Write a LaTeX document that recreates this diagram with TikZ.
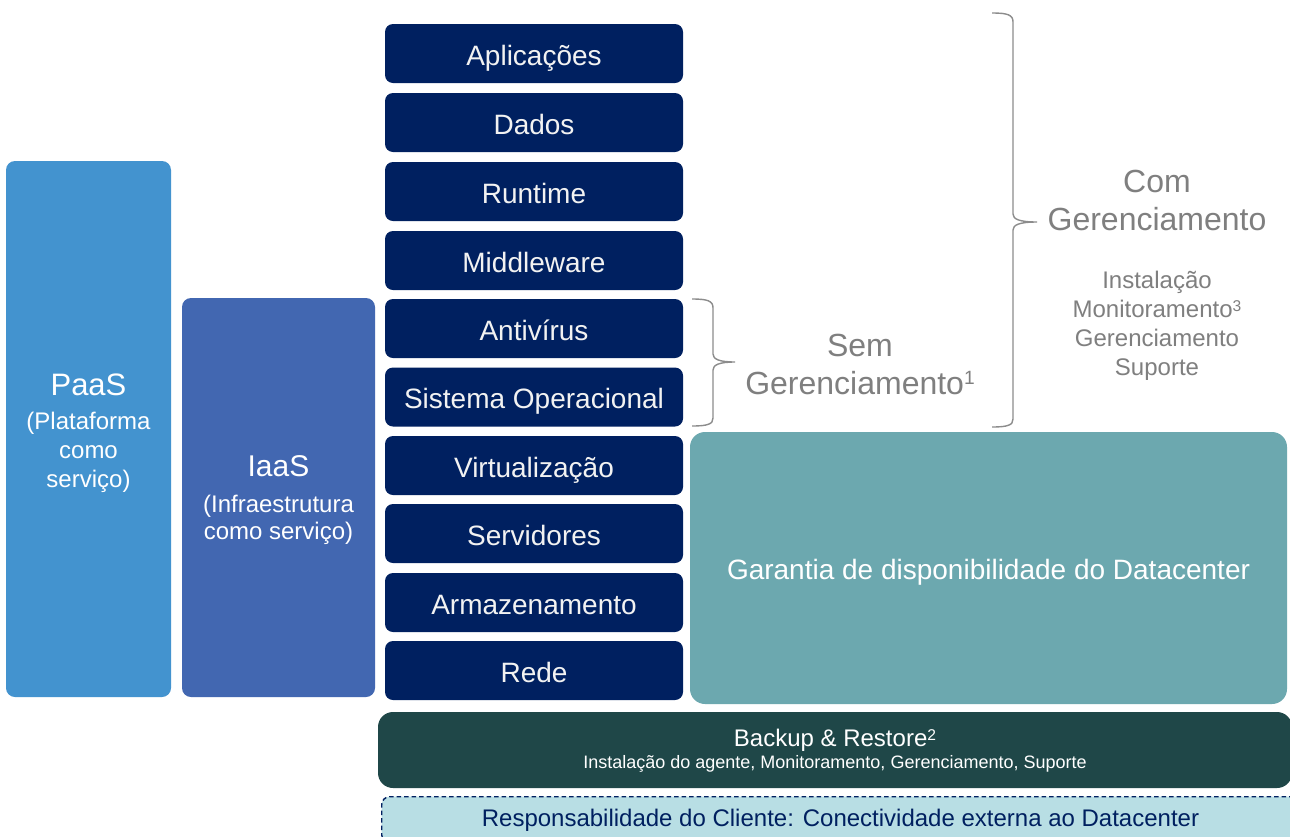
\documentclass[tikz,border=0pt]{standalone}
\usepackage{fontspec}
\usepackage{graphicx}
\setmainfont{Liberation Sans}
\definecolor{navy}{HTML}{002060}
\definecolor{paasc}{HTML}{4393CF}
\definecolor{iaasc}{HTML}{4267B1}
\definecolor{garc}{HTML}{6CA8AF}
\definecolor{backc}{HTML}{1F4748}
\definecolor{respc}{HTML}{B8DEE4}
\definecolor{graytxt}{HTML}{7F7F7F}
\definecolor{bracec}{HTML}{8C8C8C}
\definecolor{lighttxt}{HTML}{F2F2F2}
\newcommand\supnum[3]{\raisebox{#2em}{\scalebox{#1}{#3}}}
\begin{document}
\begin{tikzpicture}[x=1pt,y=-1pt,
  navbox/.style={fill=navy, rounded corners=8pt, minimum width=298pt, minimum height=59pt, inner sep=0pt, text=lighttxt, font=\fontsize{28}{32}\selectfont, text height=23pt, text depth=0pt},
  bigbox/.style={rounded corners=9pt, inner sep=0pt},
  boxtxt/.style={text=white, align=center, inner sep=0pt},
  graylbl/.style={text=graytxt, align=center, inner sep=0pt},
  bracestyle/.style={draw=bracec, line width=1.4pt}
]
\useasboundingbox (0,0) rectangle (1290,836);
\fill[white] (0,0) rectangle (1290,836);
\begin{scope}
\clip (0,0) rectangle (1290,836);
% stack
\node[navbox] (apl) at (534,53.5) {Aplicações};
\node[navbox] (dad) at (534,122.5) {Dados};
\node[navbox] (run) at (534,191.5) {Runtime};
\node[navbox] (mid) at (534,260.5) {Middleware};
\node[navbox] (ant) at (534,328.5) {Antivírus};
\node[navbox] (sis) at (534,397) {Sistema Operacional};
\node[navbox] (vir) at (534,465.5) {Virtualização};
\node[navbox] (ser) at (534,533.5) {Servidores};
\node[navbox] (arm) at (534,602.5) {Armazenamento};
\node[navbox] (red) at (534,670.5) {Rede};
% PaaS / IaaS
\node[bigbox, fill=paasc, minimum width=165pt, minimum height=536pt] (paas) at (88.5,429) {};
\node[boxtxt, font=\fontsize{24}{29}\selectfont] (paastxt) at (88.5,433)
  {{\fontsize{31}{31}\selectfont PaaS}\\[5pt](Plataforma\\como\\serviço)};
\node[bigbox, fill=iaasc, minimum width=193pt, minimum height=399pt] (iaas) at (278.5,497.5) {};
\node[boxtxt, font=\fontsize{24}{27}\selectfont] (iaastxt) at (278.5,500)
  {{\fontsize{30}{30}\selectfont IaaS}\\[9pt](Infraestrutura\\como serviço)};
% Garantia
\node[bigbox, fill=garc, rounded corners=15pt, minimum width=597pt, minimum height=272pt, text=white, font=\fontsize{28}{32}\selectfont, text height=23pt, text depth=0pt] (gar) at (988.5,568)
  {Garantia de disponibilidade do Datacenter};
% Backup
\node[bigbox, fill=backc, rounded corners=15pt, minimum width=914pt, minimum height=76pt] (bak) at (835,750) {};
\node[boxtxt, font=\fontsize{18}{22}\selectfont] (baktxt) at (835,751)
  {{\fontsize{24}{24}\selectfont Backup \& Restore\supnum{0.65}{0.25}{2}}\\Instalação do agente, Monitoramento, Gerenciamento, Suporte};
% Responsabilidade
\node[draw=navy, fill=respc, dash pattern=on 4.5pt off 3pt, line width=1.4pt, rounded corners=8pt, minimum width=920pt, minimum height=46pt, inner sep=0pt, anchor=north west] (resp) at (381,796) {};
\node[text=navy, font=\fontsize{24}{28}\selectfont, inner sep=0pt, text height=17pt, text depth=0pt] (resptxt) at (840.5,818) {Responsabilidade do Cliente: Conectividade externa ao Datacenter};
% braces
\draw[bracestyle] (692,299) .. controls (708,299) and (713,301) .. (713,308) -- (713,354)
  .. controls (713,359) and (719,362) .. (735,362)
  .. controls (719,362) and (713,365) .. (713,370) -- (713,418)
  .. controls (713,424) and (708,426) .. (692,426);
\draw[bracestyle] (992,13) .. controls (1008,13) and (1013,15) .. (1013,22) -- (1013,214)
  .. controls (1013,219) and (1019,222) .. (1037,222)
  .. controls (1019,222) and (1013,225) .. (1013,230) -- (1013,419)
  .. controls (1013,425) and (1008,427) .. (992,427);
% labels
\node[graylbl, font=\fontsize{32}{38}\selectfont] (sem) at (860,364) {Sem\\Gerenciamento\supnum{0.6}{0.29}{1}};
\node[graylbl, font=\fontsize{32}{38}\selectfont] (com) at (1157,200) {Com\\Gerenciamento};
\node[graylbl, font=\fontsize{24}{29}\selectfont] (comlist) at (1157,326) {Instalação\\Monitoramento\supnum{0.65}{0.25}{3}\\Gerenciamento\\Suporte};
\end{scope}
\end{tikzpicture}
\end{document}
